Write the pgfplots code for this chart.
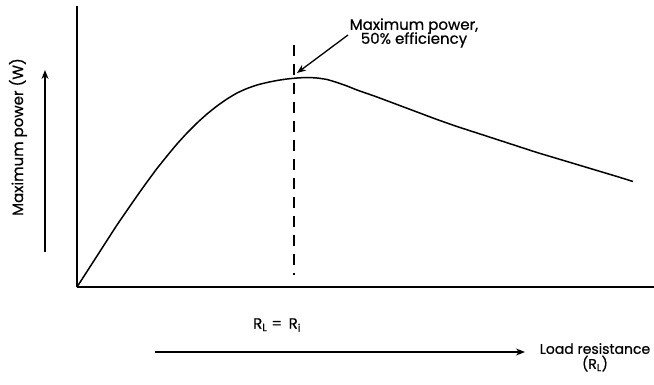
\documentclass[border=0pt]{standalone}
\usepackage{fontspec}
\setmainfont{Poppins}
\newfontfamily\lab{Poppins}[FakeBold=0.6]
\usepackage{pgfplots}
\usetikzlibrary{arrows.meta}
\pgfplotsset{compat=1.18}
\begin{document}
\begin{tikzpicture}[x=1pt,y=1pt]
\useasboundingbox (0,0) rectangle (654,384);
\begin{axis}[
  at={(77pt,97pt)}, anchor=south west,
  scale only axis, width=577pt, height=281pt,
  xmin=0, xmax=577, ymin=0, ymax=281,
  axis lines=left, axis line style={-, line width=1.6pt},
  xtick=\empty, ytick=\empty,
  clip=false,
]
\addplot[line width=1.5pt, smooth, tension=0.3] coordinates {
(0,0) (20,31) (40,62) (60,91) (70,105) (80,118.5) (90,131) (100,143) (110,154) (120,164)
(130,173) (140,181) (150,188) (160,194) (170,198.5) (180,202) (190,204.5) (200,206.5)
(210,208) (220,209) (230,209.5) (240,209) (250,207.5) (260,204.5) (270,201) (280,197)
(290,193.5) (300,190) (320,182.5) (340,175) (360,167.5) (380,160.5) (400,154) (420,147.5)
(440,141) (460,134.5) (480,128.5) (500,122.5) (520,116.5) (540,110.5) (556,105.5)
};
\addplot[line width=1.3pt, dash pattern=on 11pt off 8pt] coordinates {(217,242) (217,12)};
\end{axis}
% annotations
\node[font=\lab\fontsize{15}{17}\selectfont, align=center] at (414,351) {Maximum power,\\[-3pt]50\% efficiency};
\draw[line width=1.3pt, -{Stealth[length=9pt,width=7pt]}] (348,349) -- (297,311);
\node[font=\lab\fontsize{15}{17}\selectfont, rotate=90] at (18,247) {Maximum power (W)};
\draw[line width=1.3pt, -{Stealth[length=9pt,width=7pt]}] (45,132) -- (45,314);
\node[font=\lab\fontsize{15}{17}\selectfont] at (277,59) {R\textsubscript{L} =\, R\textsubscript{i}};
\draw[line width=1.3pt, -{Stealth[length=9pt,width=7pt]}] (155,32) -- (525,32);
\node[font=\lab\fontsize{14}{16}\selectfont, align=center, anchor=north, inner sep=0pt] at (595,41) {Load resistance\\[-1pt](R\textsubscript{L})};
\end{tikzpicture}
\end{document}
